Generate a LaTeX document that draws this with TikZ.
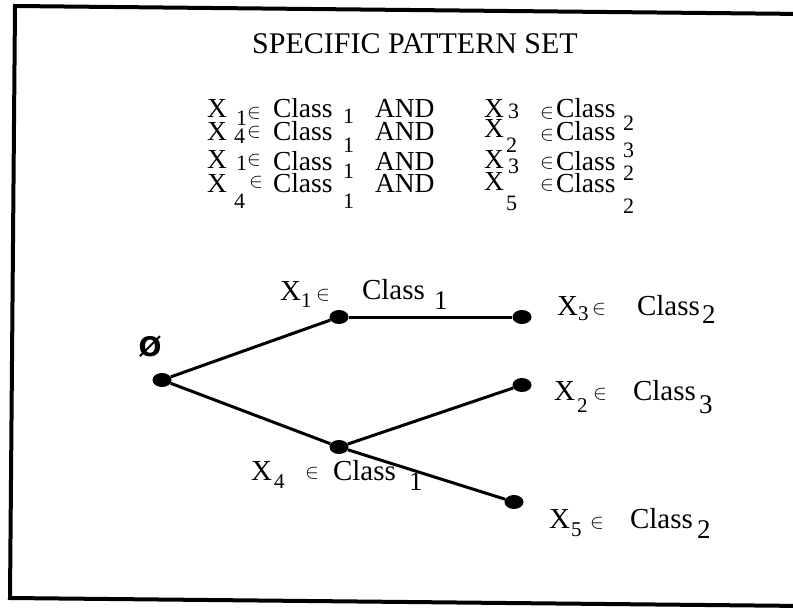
\documentclass[tikz,border=0pt]{standalone}
\usepackage{fontspec}
\setmainfont{Liberation Serif}
\newfontfamily\djsans{DejaVu Sans}
\usetikzlibrary{shapes.geometric}
\newcommand\T[4]{\node[#1] (#2) at (#3) {#4};}
\tikzset{
  lbl/.style={anchor=base west, inner sep=0pt, outer sep=0pt},
  pbig/.style={lbl, font=\fontsize{27.5}{27.5}\selectfont},
  pdig/.style={lbl, font=\fontsize{22}{22}\selectfont},
  pel/.style={lbl, font=\fontsize{22}{22}\selectfont},
  tbig/.style={lbl, font=\fontsize{29}{29}\selectfont},
  tsub/.style={lbl, font=\fontsize{21}{21}\selectfont},
  tcls/.style={lbl, font=\fontsize{27}{27}\selectfont},
  tel/.style={lbl, font=\fontsize{22}{22}\selectfont},
  dot/.style={ellipse, fill=black, minimum width=19pt, minimum height=14pt, inner sep=0pt},
  edge/.style={line width=3pt},
  frame/.style={line width=4pt}
}
\begin{document}
\begin{tikzpicture}[x=1pt, y=-1pt]
\useasboundingbox (0,0) rectangle (793,608);
\clip (0,0) rectangle (793,608);
\fill[white] (0,0) rectangle (793,608);
% frame
\draw[frame] (805,14) -- (15,6) -- (10,598) -- (805,606);
% title
\node[anchor=base, inner sep=0pt, font=\fontsize{30}{30}\selectfont] (title) at (415,53) {SPECIFIC PATTERN SET};
% pattern rows
% row 1
\T{pbig}{a1x}{207,117}{X}
\T{pdig}{a1d}{236,125}{1}
\T{pel}{a1e}{247,118}{$\in$}
\T{pbig}{a1c}{273,117}{Class}
\T{pdig}{a1k}{343,123}{1}
\T{pbig}{a1and}{375,117}{AND}
\T{pbig}{b1x}{484,117}{X}
\T{pdig}{b1d}{508,118}{3}
\T{pel}{b1e}{540,118}{$\in$}
\T{pbig}{b1c}{556,117}{Class}
\T{pdig}{b1k}{623,130}{2}
% row 2
\T{pbig}{a2x}{207,140}{X}
\T{pdig}{a2d}{234,143}{4}
\T{pel}{a2e}{247,137}{$\in$}
\T{pbig}{a2c}{273,140}{Class}
\T{pdig}{a2k}{343,152}{1}
\T{pbig}{a2and}{375,140}{AND}
\T{pbig}{b2x}{484,137}{X}
\T{pdig}{b2d}{506,152}{2}
\T{pel}{b2e}{540,140}{$\in$}
\T{pbig}{b2c}{556,140}{Class}
\T{pdig}{b2k}{623,157}{3}
% row 3
\T{pbig}{a3x}{207,168}{X}
\T{pdig}{a3d}{236,170}{1}
\T{pel}{a3e}{247,165}{$\in$}
\T{pbig}{a3c}{273,170}{Class}
\T{pdig}{a3k}{343,178}{1}
\T{pbig}{a3and}{375,170}{AND}
\T{pbig}{b3x}{484,168}{X}
\T{pdig}{b3d}{508,173}{3}
\T{pel}{b3e}{540,168}{$\in$}
\T{pbig}{b3c}{556,170}{Class}
\T{pdig}{b3k}{623,180}{2}
% row 4
\T{pbig}{a4x}{207,192}{X}
\T{pdig}{a4d}{234,208}{4}
\T{pel}{a4e}{249,187}{$\in$}
\T{pbig}{a4c}{273,192}{Class}
\T{pdig}{a4k}{343,208}{1}
\T{pbig}{a4and}{375,192}{AND}
\T{pbig}{b4x}{484,190}{X}
\T{pdig}{b4d}{506,210}{5}
\T{pel}{b4e}{540,190}{$\in$}
\T{pbig}{b4c}{556,192}{Class}
\T{pdig}{b4k}{623,213}{2}
% tree nodes
\node[dot] (root) at (162,380) {};
\node[dot] (n1) at (339,317) {};
\node[dot] (n3) at (522,317) {};
\node[dot] (n2) at (522,385) {};
\node[dot] (n4) at (339,447) {};
\node[dot] (n5) at (514,502) {};
\draw[edge] (root) -- (n1);
\draw[edge] (n1) -- (n3);
\draw[edge] (root) -- (n4);
\draw[edge] (n4) -- (n2);
\draw[edge] (n4) -- (n5);
% empty set
\node[inner sep=0pt, font=\djsans\bfseries\fontsize{27}{27}\selectfont] (empty) at (150,347) {Ø};
% label X1
\T{tbig}{l1x}{280,300}{X}
\T{tsub}{l1d}{301,307}{1}
\T{tel}{l1e}{316,300}{$\in$}
\T{tbig}{l1c}{362,299}{Class}
\T{tcls}{l1k}{434,309}{1}
% label X3
\T{tbig}{l3x}{557,315}{X}
\T{tsub}{l3d}{578,320}{3}
\T{tel}{l3e}{592,314}{$\in$}
\T{tbig}{l3c}{637,315}{Class}
\T{tcls}{l3k}{702,323}{2}
% label X2
\T{tbig}{l2x}{554,400}{X}
\T{tsub}{l2d}{577,412}{2}
\T{tel}{l2e}{593,399}{$\in$}
\T{tbig}{l2c}{633,400}{Class}
\T{tcls}{l2k}{699,413}{3}
% label X4
\T{tbig}{l4x}{251,480}{X}
\T{tsub}{l4d}{274,488}{4}
\T{tel}{l4e}{305,478}{$\in$}
\T{tbig}{l4c}{333,480}{Class}
\T{tcls}{l4k}{409,490}{1}
% label X5
\T{tbig}{l5x}{549,528}{X}
\T{tsub}{l5d}{571,536}{5}
\T{tel}{l5e}{590,528}{$\in$}
\T{tbig}{l5c}{630,528}{Class}
\T{tcls}{l5k}{697,538}{2}
\end{tikzpicture}
\end{document}
